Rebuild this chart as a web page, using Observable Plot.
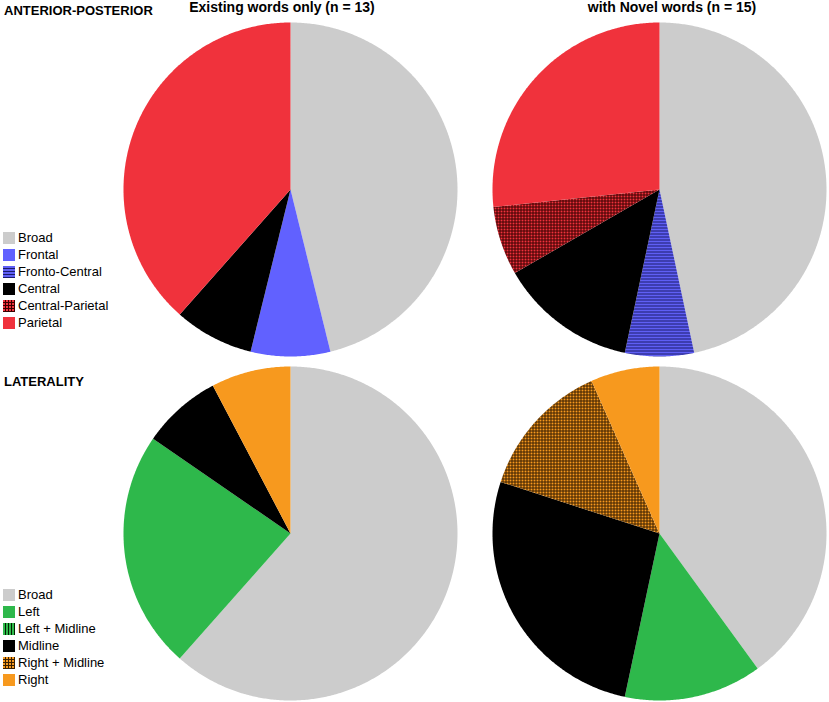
<!DOCTYPE html>
<html>
<head>
<meta charset="utf-8">
<script src="https://cdn.jsdelivr.net/npm/d3@7"></script>
<script src="https://cdn.jsdelivr.net/npm/@observablehq/plot@0.6"></script>
<style>
  html, body { margin: 0; padding: 0; background: #fff; }
  body { width: 829px; height: 702px; position: relative; overflow: hidden; font-family: "Liberation Sans", Arial, sans-serif; color: #000; }
  .abs { position: absolute; }
  .rowlabel { font-weight: bold; font-size: 13px; white-space: nowrap; }
  .coltitle { font-weight: bold; font-size: 14px; line-height: 15px; white-space: nowrap; transform: translateX(-50%); }
  .legend { font-size: 13px; line-height: 17px; }
  .legend div { display: flex; align-items: center; height: 17px; white-space: nowrap; }
  .legend svg { margin-right: 3px; }
</style>
</head>
<body>
<svg width="0" height="0" style="position:absolute">
  <defs>
    <pattern id="pFrontoCentral" patternUnits="userSpaceOnUse" width="3" height="3">
      <rect width="3" height="3" fill="#5f5ff5"></rect>
      <rect y="2" width="3" height="1" fill="#1b1b6a"></rect>
    </pattern>
    <pattern id="pCentralParietal" patternUnits="userSpaceOnUse" width="3" height="3">
      <rect width="3" height="3" fill="#f0323c"></rect>
      <rect x="2" width="1" height="3" fill="#3a0000"></rect>
      <rect y="2" width="3" height="1" fill="#3a0000"></rect>
    </pattern>
    <pattern id="pLeftMid" patternUnits="userSpaceOnUse" width="3" height="3">
      <rect width="3" height="3" fill="#2eb84b"></rect>
      <rect x="2" width="1" height="3" fill="#002000"></rect>
    </pattern>
    <pattern id="pRightMid" patternUnits="userSpaceOnUse" width="3" height="3">
      <rect width="3" height="3" fill="#f7991e"></rect>
      <rect x="2" width="1" height="3" fill="#3a2000"></rect>
      <rect y="2" width="3" height="1" fill="#3a2000"></rect>
    </pattern>
  </defs>
</svg>
<div id="root"></div>
<script>
// ---- data ----
const columnTitles = ["Existing words only (n = 13)", "with Novel words (n = 15)"];
const rowTitles = ["ANTERIOR-POSTERIOR", "LATERALITY"];

const apCategories = ["Broad", "Frontal", "Fronto-Central", "Central", "Central-Parietal", "Parietal"];
const apExisting = [6, 1, 0, 1, 0, 5];
const apNovel = [7, 0, 1, 2, 1, 4];
const apColors = ["#cccccc", "#6161ff", "url(#pFrontoCentral)", "#000000", "url(#pCentralParietal)", "#f0323c"];

const latCategories = ["Broad", "Left", "Left + Midline", "Midline", "Right + Midline", "Right"];
const latExisting = [8, 3, 0, 1, 0, 1];
const latNovel = [6, 2, 0, 4, 2, 1];
const latColors = ["#cccccc", "#2eb84b", "url(#pLeftMid)", "#000000", "url(#pRightMid)", "#f7991e"];

// ---- layout ----
const R = 167;
const centersX = [290, 659];
const centersY = [189, 533];
const root = document.getElementById("root");

function slicePoints(categories, counts) {
  const total = d3.sum(counts);
  const pts = [];
  let cum = 0;
  categories.forEach((cat, i) => {
    const v = counts[i];
    if (!v) return;
    const a0 = cum / total * 2 * Math.PI;
    cum += v;
    const a1 = cum / total * 2 * Math.PI;
    const n = Math.max(2, Math.ceil((a1 - a0) / (Math.PI / 360)));
    pts.push({key: cat, cat, x: 0, y: 0});
    for (let k = 0; k <= n; k++) {
      const a = a0 + (a1 - a0) * k / n;
      pts.push({key: cat, cat, x: Math.sin(a), y: Math.cos(a)});
    }
    pts.push({key: cat, cat, x: 0, y: 0});
  });
  return pts;
}

function pie(categories, counts, colors, cx, cy) {
  const size = 2 * R + 2;
  const chart = Plot.plot({
    width: size,
    height: size,
    margin: 1,
    x: {domain: [-1, 1], axis: null},
    y: {domain: [-1, 1], axis: null},
    color: {domain: categories, range: colors},
    marks: [
      Plot.line(slicePoints(categories, counts), {
        x: "x", y: "y", z: "key", fill: "cat", stroke: "none", curve: "linear"
      })
    ]
  });
  chart.style.position = "absolute";
  chart.style.left = (cx - size / 2) + "px";
  chart.style.top = (cy - size / 2) + "px";
  chart.style.background = "transparent";
  root.appendChild(chart);
}

pie(apCategories, apExisting, apColors, centersX[0], centersY[0]);
pie(apCategories, apNovel, apColors, centersX[1], centersY[0]);
pie(latCategories, latExisting, latColors, centersX[0], centersY[1]);
pie(latCategories, latNovel, latColors, centersX[1], centersY[1]);

function addText(cls, text, left, top) {
  const d = document.createElement("div");
  d.className = "abs " + cls;
  d.textContent = text;
  d.style.left = left + "px";
  d.style.top = top + "px";
  root.appendChild(d);
}
addText("rowlabel", rowTitles[0], 4, 3);
addText("rowlabel", rowTitles[1], 4, 374);
addText("coltitle", columnTitles[0], 282, 0);
addText("coltitle", columnTitles[1], 672, 0);

function legend(categories, colors, top) {
  const d = document.createElement("div");
  d.className = "abs legend";
  d.style.left = "3px";
  d.style.top = top + "px";
  categories.forEach((c, i) => {
    const row = document.createElement("div");
    row.innerHTML = `<svg width="12" height="12"><rect width="12" height="12" fill="${colors[i]}"></rect></svg><span></span>`;
    row.querySelector("span").textContent = c;
    d.appendChild(row);
  });
  root.appendChild(d);
}
legend(apCategories, apColors, 229);
legend(latCategories, latColors, 586);
</script>
</body>
</html>
